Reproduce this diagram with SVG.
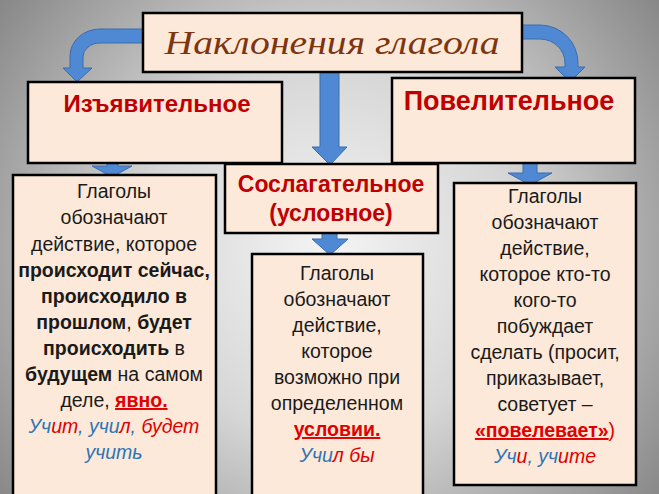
<svg xmlns="http://www.w3.org/2000/svg" width="659" height="494" viewBox="0 0 659 494">
<defs>
<radialGradient id="bg" cx="330" cy="250" r="420" gradientUnits="userSpaceOnUse">
<stop offset="0" stop-color="#f4f4f4"/>
<stop offset="0.45" stop-color="#d6d6d6"/>
<stop offset="1" stop-color="#858585"/>
</radialGradient>
<style>
.box{fill:#fde9d9;stroke:#000;stroke-width:2.5}
.arr{fill:#5089d3;stroke:#3a6cae;stroke-width:1}
.t{font-family:"Liberation Sans",Arial,sans-serif;font-size:19.5px;fill:#1a1a1a;text-anchor:middle}
.b{font-weight:bold}
.h{font-family:"Liberation Sans",Arial,sans-serif;font-weight:bold;fill:#c00000;text-anchor:middle}
.r{fill:#e00000}
.bl{fill:#2e75b6}
.i{font-style:italic}
.u{text-decoration:underline}
</style>
</defs>
<rect width="659" height="494" fill="url(#bg)"/>
<g id="connectors">
<path class="arr" d="M143,29 L100,29 A30,27 0 0 0 70,56 L70,68 L63,68 L77,82 L92,68 L83,68 L83,57 A17,14 0 0 1 100,43 L143,43 Z"/>
<path class="arr" d="M522,25 L540,25 A38,38 0 0 1 578,63 L578,67 L585,67 L570,82 L555,67 L565,67 L565,63 A25,24 0 0 0 540,39 L522,39 Z"/>
<path class="arr" d="M320,72 L339,72 L339,147 L347,147 L330,165 L312,147 L320,147 Z"/>
<path class="arr" d="M107,160 L118,160 L118,166 L132,166 L112,177 L92,166 L107,166 Z"/>
<path class="arr" d="M322,230 L337,230 L337,239 L348,239 L330,255 L312,239 L322,239 Z"/>
<path class="arr" d="M523,160 L537,160 L537,173 L552,173 L530,185 L508,173 L523,173 Z"/>
</g>
<g id="title">
<rect class="box" x="143" y="13" width="379" height="59"/>
<text x="332" y="54" font-family="'Liberation Serif','DejaVu Serif',serif" font-style="italic" font-size="34" fill="#7b3511" text-anchor="middle" textLength="335" lengthAdjust="spacingAndGlyphs">Наклонения глагола</text>
</g>
<g id="izyav">
<rect class="box" x="28" y="82" width="254" height="81"/>
<text class="h" x="157" y="112" font-size="24">Изъявительное</text>
</g>
<g id="povel">
<rect class="box" x="392" y="78" width="243" height="85"/>
<text class="h" x="509" y="110" font-size="27">Повелительное</text>
</g>
<g id="soslag">
<rect class="box" x="225" y="164" width="213" height="69"/>
<text class="h" x="331" y="192" font-size="23">Сослагательное</text>
<text class="h" x="331" y="221" font-size="23">(условное)</text>
</g>
<g id="izyav-text">
<rect class="box" x="13" y="175" width="203" height="330"/>
<text class="t" x="114" y="198">Глаголы</text>
<text class="t" x="114" y="224">обозначают</text>
<text class="t" x="114" y="251">действие, которое</text>
<text class="t b" x="114" y="277">происходит сейчас,</text>
<text class="t b" x="114" y="303">происходило в</text>
<text class="t" x="114" y="329"><tspan class="b">прошлом</tspan>, <tspan class="b">будет</tspan></text>
<text class="t" x="114" y="355"><tspan class="b">происходить</tspan> в</text>
<text class="t" x="114" y="381"><tspan class="b">будущем</tspan> на самом</text>
<text class="t" x="114" y="407">деле, <tspan class="b r u">явно.</tspan></text>
<text class="t i" x="114" y="433"><tspan class="bl">Уч</tspan><tspan class="r">ит</tspan><tspan class="bl">, учи</tspan><tspan class="r">л</tspan><tspan class="bl">, </tspan><tspan class="r">будет</tspan></text>
<text class="t i bl" x="114" y="459">учить</text>
</g>
<g id="soslag-text">
<rect class="box" x="252" y="254" width="171" height="250"/>
<text class="t" x="337" y="280">Глаголы</text>
<text class="t" x="337" y="306">обозначают</text>
<text class="t" x="337" y="332">действие,</text>
<text class="t" x="337" y="358">которое</text>
<text class="t" x="337" y="384">возможно при</text>
<text class="t" x="337" y="410">определенном</text>
<text class="t b r u" x="337" y="436">условии.</text>
<text class="t i" x="337" y="462"><tspan class="bl">Учи</tspan><tspan class="r">л бы</tspan></text>
</g>
<g id="povel-text">
<rect class="box" x="454" y="183" width="182" height="302"/>
<text class="t" x="545" y="203">Глаголы</text>
<text class="t" x="545" y="229">обозначают</text>
<text class="t" x="545" y="255">действие,</text>
<text class="t" x="545" y="281">которое кто-то</text>
<text class="t" x="545" y="307">кого-то</text>
<text class="t" x="545" y="333">побуждает</text>
<text class="t" x="545" y="359">сделать (просит,</text>
<text class="t" x="545" y="385">приказывает,</text>
<text class="t" x="545" y="411">советует –</text>
<text class="t" x="545" y="437"><tspan class="b r u">«повелевает»</tspan><tspan class="r">)</tspan></text>
<text class="t i" x="545" y="463"><tspan class="bl">Уч</tspan><tspan class="r">и</tspan><tspan class="bl">, уч</tspan><tspan class="r">ите</tspan></text>
</g>
</svg>
